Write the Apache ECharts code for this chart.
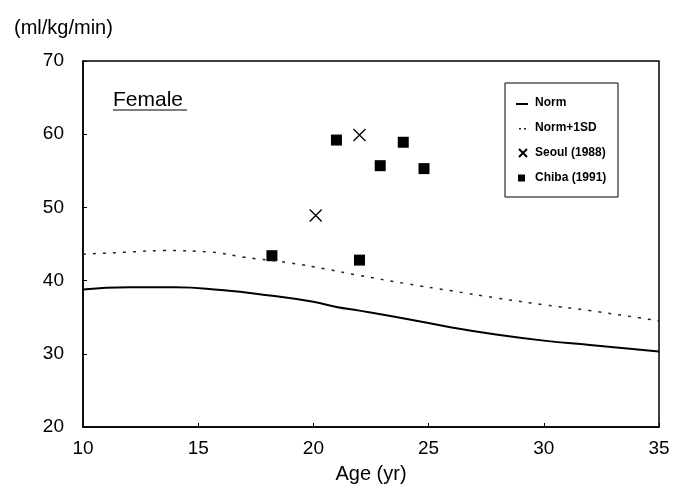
<!DOCTYPE html>
<html>
<head>
<meta charset="utf-8">
<script src="https://cdn.jsdelivr.net/npm/echarts@6/dist/echarts.min.js"></script>
<style>
  html, body { margin: 0; padding: 0; background: #fff; }
  #main { width: 673px; height: 502px; }
</style>
</head>
<body>
<div id="main"></div>
<script>
// Norm curve (age, ml/kg/min)
var normAges = [10, 12, 14, 16, 18, 20, 21, 22, 24, 26, 28, 30, 32, 35];
var normValues = [38.8, 39.1, 39.1, 38.7, 38.0, 37.1, 36.4, 35.9, 34.8, 33.6, 32.6, 31.8, 31.2, 30.3];

// Norm + 1SD curve
var sdAges = [10, 12, 13.5, 15.5, 17, 19, 20.5, 22, 24, 26, 28, 30, 32, 35];
var sdValues = [43.6, 43.9, 44.1, 43.9, 43.2, 42.4, 41.6, 40.7, 39.6, 38.6, 37.6, 36.7, 35.9, 34.5];

// Seoul (1988) points
var seoulAges = [20.1, 22.0];
var seoulValues = [48.9, 59.9];

// Chiba (1991) points
var chibaAges = [18.2, 21.0, 22.0, 22.9, 23.9, 24.8];
var chibaValues = [43.4, 59.2, 42.8, 55.7, 58.9, 55.3];

var xTicks = [10, 15, 20, 25, 30, 35];
var yTicks = [20, 30, 40, 50, 60, 70];

function pairs(xs, ys) {
  return xs.map(function (x, i) { return [x, ys[i]]; });
}

var font = 'Liberation Sans, Arial, sans-serif';
var chart = echarts.init(document.getElementById('main'));

// legend icons: tiny corner specks keep the path box at full item size
var iconNorm = 'path://M0,0h0.01v0.01h-0.01zM0,4h12v2h-12zM14,8h-0.01v-0.01h0.01z';
var iconSD = 'path://M0,0h0.01v0.01h-0.01zM3,4h2v1.6h-2zM8,4h2v1.6h-2zM14,8h-0.01v-0.01h0.01z';
var iconChiba = 'path://M0,0h0.01v0.01h-0.01zM2,0.5h7v7h-7zM14,8h-0.01v-0.01h0.01z';

var option = {
  backgroundColor: '#fff',
  animation: false,
  textStyle: { fontFamily: font },
  title: {
    text: '(ml/kg/min)',
    left: 9,
    top: 13,
    textStyle: { fontSize: 20, fontWeight: 'normal', color: '#000', fontFamily: font }
  },
  grid: {
    left: 83, right: 14, top: 61, bottom: 75,
    show: true, borderColor: '#000', borderWidth: 1.5
  },
  legend: {
    orient: 'vertical',
    left: 511,
    top: 92,
    itemWidth: 14,
    itemHeight: 8,
    itemGap: 13,
    selectedMode: false,
    textStyle: { fontSize: 12, fontWeight: 'bold', color: '#000', fontFamily: font },
    data: [
      { name: 'Norm', icon: iconNorm },
      { name: 'Norm+1SD', icon: iconSD },
      { name: 'Seoul (1988)' },
      { name: 'Chiba (1991)', icon: iconChiba }
    ]
  },
  xAxis: {
    type: 'value',
    min: xTicks[0],
    max: xTicks[xTicks.length - 1],
    interval: 5,
    name: 'Age (yr)',
    nameLocation: 'middle',
    nameGap: 37,
    nameTextStyle: { fontSize: 20, color: '#000', fontFamily: font },
    axisLine: { show: true, lineStyle: { color: '#000', width: 1.5 } },
    axisTick: { show: true, inside: true, length: 4, lineStyle: { color: '#000' } },
    axisLabel: { fontSize: 19, color: '#000', margin: 12, fontFamily: font },
    splitLine: { show: false }
  },
  yAxis: {
    type: 'value',
    min: yTicks[0],
    max: yTicks[yTicks.length - 1],
    interval: 10,
    axisLine: { show: true, lineStyle: { color: '#000', width: 1.5 } },
    axisTick: { show: true, inside: true, length: 4, lineStyle: { color: '#000' } },
    axisLabel: { fontSize: 19, color: '#000', margin: 19, fontFamily: font },
    splitLine: { show: false }
  },
  graphic: [
    {
      type: 'rect',
      shape: { x: 505, y: 83, width: 113, height: 114 },
      style: { fill: 'none', stroke: '#000', lineWidth: 1 },
      z: 100
    },
    {
      type: 'text',
      left: 113,
      top: 90,
      style: { text: 'Female', fontSize: 21, fill: '#000', fontFamily: font },
      z: 100
    },
    {
      type: 'line',
      shape: { x1: 113, y1: 110, x2: 187, y2: 110 },
      style: { stroke: '#000', lineWidth: 1.2 },
      z: 100
    }
  ],
  series: [
    {
      name: 'Norm',
      type: 'line',
      smooth: true,
      symbol: 'none',
      data: pairs(normAges, normValues),
      lineStyle: { color: '#000', width: 2 },
      itemStyle: { color: '#000' }
    },
    {
      name: 'Norm+1SD',
      type: 'line',
      smooth: true,
      symbol: 'none',
      data: pairs(sdAges, sdValues),
      lineStyle: { color: '#222', width: 1.5, type: [3, 7] },
      itemStyle: { color: '#222' }
    },
    {
      name: 'Seoul (1988)',
      type: 'scatter',
      symbol: 'path://M0,0L10,10M10,0L0,10',
      symbolSize: 12,
      data: pairs(seoulAges, seoulValues),
      itemStyle: { color: 'transparent', borderColor: '#000', borderWidth: 1.3, opacity: 1 }
    },
    {
      name: 'Chiba (1991)',
      type: 'scatter',
      symbol: 'rect',
      symbolSize: 11,
      data: pairs(chibaAges, chibaValues),
      itemStyle: { color: '#000', opacity: 1 }
    }
  ]
};

chart.setOption(option);
</script>
</body>
</html>
